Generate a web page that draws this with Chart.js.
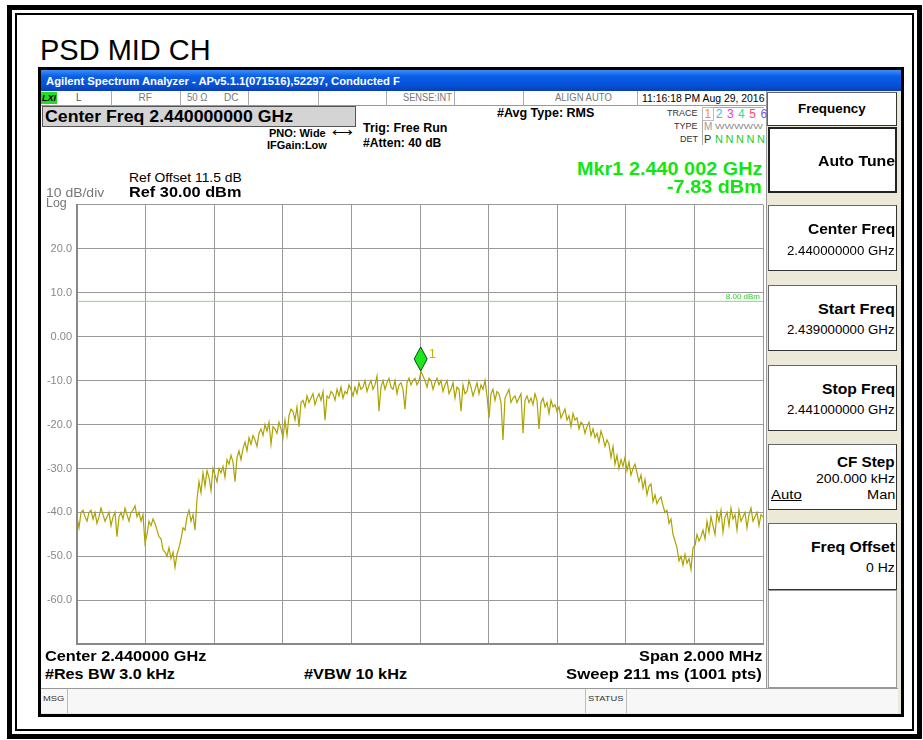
<!DOCTYPE html>
<html>
<head>
<meta charset="utf-8">
<script src="https://cdn.jsdelivr.net/npm/chart.js@4.4.1/dist/chart.umd.min.js"></script>
<style>
  body { margin: 0; width: 923px; height: 740px; background: #fff; position: relative; overflow: hidden;
         font-family: "Liberation Sans", Arial, sans-serif; }
  .abs { position: absolute; box-sizing: border-box; }
  .t { position: absolute; white-space: nowrap; }
  .btn { position: absolute; box-sizing: border-box; background: #fff; border: 1px solid #666;
         border-right-color: #333; border-bottom-color: #333; }
</style>
</head>
<body>
<!-- outer frame -->
<div class="abs" style="left:7px;top:5px;width:915px;height:734px;border:5px solid #000"></div>
<div class="abs" style="left:15px;top:13px;width:899px;height:718px;border:2px solid #000"></div>

<!-- analyzer window -->
<div class="abs" style="left:38px;top:67px;width:866px;height:650px;border:3px solid #000;background:#ece9d8"></div>
<div class="abs" style="left:41px;top:70px;width:860px;height:21px;background:linear-gradient(#3d8ff7,#0a5fe8 30%,#0652da 70%,#0a40b2)"></div>
<div class="abs" style="left:41px;top:91px;width:725px;height:15px;background:#fff;border-bottom:1px solid #999"></div>
<div class="abs" style="left:41px;top:106px;width:725px;height:582px;background:#fff"></div>
<div class="abs" style="left:41px;top:92px;width:16px;height:12px;background:#22dd22"></div>
<div class="abs" style="left:42px;top:106px;width:314px;height:21px;background:#d4d4d4;border:1px solid #555"></div>
<div class="abs" style="left:702px;top:107px;width:62px;height:38px;border-left:1px solid #aaa;border-top:1px solid #aaa"></div>
<div class="abs" style="left:702px;top:107px;width:12px;height:14px;border:1px solid #bbb"></div>

<!-- right panel -->
<div class="abs" style="left:766px;top:91px;width:132px;height:597px;background:#ece9d8;border-left:1px solid #999"></div>
<div class="btn" style="left:767px;top:92px;width:130px;height:34px"></div>
<div class="btn" style="left:768px;top:127px;width:129px;height:66px;border:2px solid #222"></div>
<div class="btn" style="left:768px;top:205px;width:129px;height:66px"></div>
<div class="btn" style="left:768px;top:285px;width:129px;height:66px"></div>
<div class="btn" style="left:768px;top:365px;width:129px;height:66px"></div>
<div class="btn" style="left:768px;top:444px;width:129px;height:66px"></div>
<div class="btn" style="left:768px;top:523px;width:129px;height:67px"></div>
<div class="btn" style="left:768px;top:590px;width:129px;height:98px;border-color:#999"></div>

<!-- msg strip -->
<div class="abs" style="left:41px;top:688px;width:857px;height:25px;background:#f7f7f7;border-top:1px solid #999"></div>

<div class="abs" style="left:40px;top:193px;width:726px;height:463px">
  <canvas id="psd" width="726" height="463"></canvas>
</div>

<script>
// sweep settings (MHz)
const startMHz = 2439.0;
const stopMHz = 2441.0;
const refLevel = 30;
const bottomLevel = -70;

// trace 1 (dBm), left to right
const traceDbm = [
  -41, -43.5, -40, -39.5, -41, -42, -40, -39.5, -41.5, -40, -42.5, -41, -39, -40.5, -42, -41, -40, -43, -41, -40,
  -45.5, -41, -40, -41.5, -39, -40.5, -42, -40, -39.5, -38.5, -41, -40, -42, -40.5, -47, -45, -42, -43, -41.5, -42.5,
  -44, -45.5, -46, -48.5, -49, -50, -48, -50.5, -49, -52.5, -49.5, -48, -46, -43.5, -44, -41, -39.5, -42, -40.5, -44,
  -37, -33, -35.5, -31, -34, -30.5, -32, -35, -30, -31.5, -33, -30, -31, -29.5, -32, -28, -29, -27, -28.5, -33,
  -27.5, -26, -28, -25.5, -24, -26, -23, -24.5, -22.5, -23.5, -25, -22, -21, -22.5, -20, -21.5, -19.5, -24.5, -20.5, -21,
  -22, -19.5, -21, -23, -19, -22.5, -18, -16.5, -17, -19, -16, -20.5, -15, -14.5, -16, -13.5, -15, -14, -13, -15.5,
  -14, -13, -14.5, -12.5, -19, -13.5, -14, -12.5, -13, -14.5, -12, -13.5, -11.5, -14, -12.5, -13, -11, -12, -13.5, -11.5,
  -13, -10.5, -12, -11.5, -10, -12.5, -11, -10, -12, -11, -9, -17, -11.5, -10, -12, -10.5, -9.5, -11.5, -12, -10,
  -13, -11, -10.5, -12, -16.5, -10.5, -9.5, -11, -10, -9.5, -11, -10, -7.9, -9, -10, -11.5, -9.5, -10, -12, -10.5,
  -9.5, -11, -10, -12.5, -11, -10, -13, -12, -10.5, -14, -11.5, -12, -17, -11, -13, -12.5, -10, -11.5, -13.5, -12,
  -10.5, -13, -11, -12, -10, -13.5, -18.5, -13, -12, -14.5, -12.5, -13, -15, -23.5, -14, -13, -12, -15, -14, -13.5,
  -15, -14, -13, -22, -14.5, -13.5, -15, -14, -15.5, -13, -14.5, -21, -15, -14, -16, -15, -17.5, -14.5, -16, -15.5,
  -17, -16, -18.5, -17.5, -16.5, -19, -18, -20.5, -17.5, -19, -18.5, -21, -19.5, -20, -22, -20.5, -19.5, -22.5, -21, -23,
  -22, -24, -21.5, -23, -25, -23.5, -24.5, -27.5, -25, -29, -27, -30, -28, -29.5, -27.5, -30.5, -28.5, -31.5, -30, -29,
  -31, -33, -31.5, -34.5, -32.5, -36, -34, -33.5, -37.5, -36, -38, -37, -36.5, -38.5, -40, -39.5, -42.5, -41.5, -45, -46.5,
  -48, -51, -50, -52, -49.5, -51.5, -50.5, -53, -48, -47.5, -45, -46.5, -45.5, -44, -46, -42, -44.5, -41, -43, -45,
  -40, -42, -39.5, -44.5, -41, -40, -43, -39, -41.5, -40.5, -44, -39.5, -42, -41, -40, -43.5, -40.5, -39, -42, -41,
  -40, -43, -40.5, -41
];

// marker 1 and display line
const markerMHz = [2440.002];
const markerDbm = [-7.83];
const markerLabel = ["1"];
const displayLineDbm = 8.0;

const sweepMHz = traceDbm.map((_, i) => startMHz + i * (stopMHz - startMHz) / (traceDbm.length - 1));

// text helper: x,y = anchor / vertical centre
function lbl(x, y, s, o) {
  o = o || {};
  const el = document.createElement("div");
  el.className = "t";
  const size = o.size || 12;
  el.textContent = s;
  el.style.fontSize = size + "px";
  el.style.lineHeight = size + "px";
  el.style.fontWeight = o.bold ? "bold" : "normal";
  el.style.color = o.color || "#000";
  if (o.font) el.style.fontFamily = o.font;
  if (o.italic) el.style.fontStyle = "italic";
  if (o.under) el.style.textDecoration = "underline";
  el.style.top = (y - size / 2) + "px";
  document.body.appendChild(el);
  const w = el.offsetWidth;
  const k = o.w ? o.w / w : 1;
  const align = o.align || "left";
  const left = align === "right" ? x - w * k : align === "center" ? x - (w * k) / 2 : x;
  el.style.left = left + "px";
  if (k !== 1) {
    el.style.transformOrigin = "left center";
    el.style.transform = "scaleX(" + k + ")";
  }
  return el;
}
function vline(x, y, h, c) {
  const d = document.createElement("div");
  d.className = "abs";
  d.style.cssText = `left:${x}px;top:${y}px;width:1px;height:${h}px;background:${c}`;
  document.body.appendChild(d);
}

// title + window bar
lbl(40, 50, "PSD MID CH", { size: 30, w: 171 });
lbl(46, 81, "Agilent Spectrum Analyzer - APv5.1.1(071516),52297, Conducted F", { size: 11, bold: true, color: "#fff", w: 354 });

// status row
[111, 180, 248, 318, 386, 454, 523, 637].forEach((x) => vline(x, 91, 15, "#aaa"));
lbl(42, 98, "LXI", { size: 9, bold: true, italic: true, w: 14 });
lbl(76, 98, "L", { size: 10, color: "#555" });
lbl(145, 98, "RF", { size: 10, color: "#777", align: "center" });
lbl(187, 98, "50 Ω", { size: 10, color: "#777", w: 20 });
lbl(224, 98, "DC", { size: 10, color: "#777" });
lbl(452, 98, "SENSE:INT", { size: 10, color: "#777", align: "right", w: 49 });
lbl(612, 98, "ALIGN AUTO", { size: 10, color: "#777", align: "right", w: 57 });
lbl(764, 98, "11:16:18 PM Aug 29, 2016", { size: 11, align: "right", w: 122 });

// annotations
lbl(45, 116.5, "Center Freq 2.440000000 GHz", { size: 16, bold: true, w: 248 });
lbl(269, 133, "PNO: Wide", { size: 11, bold: true, w: 57 });
lbl(332, 132, "⟷", { size: 11, w: 21 });
lbl(267, 145, "IFGain:Low", { size: 11, bold: true, w: 60 });
lbl(363, 128, "Trig: Free Run", { size: 12, bold: true, w: 84 });
lbl(363, 143, "#Atten: 40 dB", { size: 12, bold: true, w: 78 });
lbl(497, 113, "#Avg Type: RMS", { size: 12, bold: true, w: 97 });
lbl(698, 113, "TRACE", { size: 9, color: "#333", align: "right" });
lbl(698, 126, "TYPE", { size: 9, color: "#333", align: "right" });
lbl(698, 139, "DET", { size: 9, color: "#333", align: "right" });
const traceColors = ["#f29a12", "#22c8ee", "#ee33dd", "#33dd99", "#ff4477", "#7755ff"];
traceColors.forEach((c, i) => lbl(708 + i * 11.2, 114, String(i + 1), { size: 12, color: c, align: "center" }));
lbl(704, 127, "M", { size: 10, color: "#999" });
lbl(715, 127, "WWWWW", { size: 8, color: "#888", w: 48 });
lbl(704, 139, "P", { size: 11, color: "#333" });
["N", "N", "N", "N", "N"].forEach((s, i) => lbl(719 + i * 10.5, 139, s, { size: 11, color: "#22cc22", align: "center" }));

lbl(762, 168, "Mkr1 2.440 002 GHz", { size: 19, bold: true, color: "#11e611", align: "right", w: 185 });
lbl(762, 186, "-7.83 dBm", { size: 19, bold: true, color: "#11e611", align: "right", w: 95 });
lbl(129, 177, "Ref Offset 11.5 dB", { size: 13, w: 113 });
lbl(129, 191, "Ref 30.00 dBm", { size: 15, bold: true, w: 112 });
lbl(46, 192, "10 dB/div", { size: 13, color: "#777", w: 58 });
lbl(46, 202, "Log", { size: 13, color: "#777", w: 21 });

// bottom annotations
lbl(45, 655, "Center 2.440000 GHz", { size: 15, bold: true, w: 161 });
lbl(762, 655, "Span 2.000 MHz", { size: 15, bold: true, align: "right", w: 123 });
lbl(45, 673, "#Res BW 3.0 kHz", { size: 15, bold: true, w: 130 });
lbl(304, 673, "#VBW 10 kHz", { size: 15, bold: true, w: 103 });
lbl(762, 673, "Sweep  211 ms (1001 pts)", { size: 15, bold: true, align: "right", w: 196 });
[67, 585, 626].forEach((x) => vline(x, 689, 24, "#bbb"));
lbl(43, 699, "MSG", { size: 8, color: "#333", w: 21 });
lbl(588, 699, "STATUS", { size: 8, color: "#333", w: 35 });

// softkeys
lbl(832, 108, "Frequency", { size: 13, bold: true, align: "center", w: 68 });
lbl(895, 160, "Auto Tune", { size: 15, bold: true, align: "right", w: 77 });
lbl(895, 228, "Center Freq", { size: 15, bold: true, align: "right", w: 87 });
lbl(895, 250, "2.440000000 GHz", { size: 13, align: "right", w: 108 });
lbl(895, 308, "Start Freq", { size: 15, bold: true, align: "right", w: 77 });
lbl(895, 329, "2.439000000 GHz", { size: 13, align: "right", w: 108 });
lbl(895, 388, "Stop Freq", { size: 15, bold: true, align: "right", w: 73 });
lbl(895, 409, "2.441000000 GHz", { size: 13, align: "right", w: 108 });
lbl(895, 461, "CF Step", { size: 15, bold: true, align: "right", w: 58 });
lbl(895, 478, "200.000 kHz", { size: 13, align: "right", w: 79 });
lbl(771, 494, "Auto", { size: 13, under: true, w: 31 });
lbl(895, 494, "Man", { size: 13, align: "right", w: 28 });
lbl(895, 546, "Freq Offset", { size: 15, bold: true, align: "right", w: 84 });
lbl(895, 567, "0 Hz", { size: 13, align: "right", w: 29 });

// marker diamond + display line label
const markerPlugin = {
  id: "marker",
  afterDatasetsDraw(chart) {
    const { ctx, chartArea } = chart;
    const x = chart.scales.x;
    const y = chart.scales.y;
    const px = x.getPixelForValue(markerMHz[0]);
    const py = y.getPixelForValue(markerDbm[0]);
    ctx.save();
    ctx.beginPath();
    ctx.moveTo(px, py - 24);
    ctx.lineTo(px + 6.5, py - 12);
    ctx.lineTo(px, py);
    ctx.lineTo(px - 6.5, py - 12);
    ctx.closePath();
    ctx.fillStyle = "#1ee61e";
    ctx.fill();
    ctx.strokeStyle = "#0a4a0a";
    ctx.lineWidth = 1;
    ctx.stroke();
    ctx.fillStyle = "#c8b400";
    ctx.font = '13px "Liberation Sans"';
    ctx.textBaseline = "middle";
    ctx.fillText(markerLabel[0], px + 8, py - 17);
    const dy = y.getPixelForValue(displayLineDbm);
    ctx.fillStyle = "#33cc33";
    ctx.font = '8px "Liberation Sans"';
    ctx.textAlign = "right";
    ctx.textBaseline = "bottom";
    ctx.fillText(displayLineDbm.toFixed(2) + " dBm", chartArea.right - 3, dy - 1);
    ctx.restore();
  },
};

const psd_chart = document.getElementById("psd");
new Chart(psd_chart, {
  type: "line",
  data: {
    datasets: [
      {
        label: "Trace 1",
        data: sweepMHz.map((f, i) => ({ x: f, y: traceDbm[i] })),
        borderColor: "#aca300",
        borderWidth: 1.2,
        pointRadius: 0,
        tension: 0,
      },
      {
        label: "Display Line",
        data: [
          { x: startMHz, y: displayLineDbm },
          { x: stopMHz, y: displayLineDbm },
        ],
        borderColor: "#77e677",
        borderWidth: 1,
        pointRadius: 0,
      },
    ],
  },
  options: {
    responsive: false,
    animation: false,
    layout: { padding: { left: 0, right: 3, top: 9, bottom: 7 } },
    plugins: { legend: { display: false }, tooltip: { enabled: false } },
    scales: {
      x: {
        type: "linear",
        min: startMHz,
        max: stopMHz,
        ticks: { display: false, stepSize: 0.2 },
        grid: { color: "#9a9a9a", drawTicks: false },
        border: { color: "#888", width: 2 },
        afterFit: (s) => { s.height = 0; },
      },
      y: {
        min: bottomLevel,
        max: refLevel,
        ticks: {
          stepSize: 10,
          padding: 5,
          color: "#888",
          font: { size: 11, family: "Liberation Sans" },
          callback: (v) => (v === refLevel || v === bottomLevel ? "" : v === 0 ? "0.00" : v.toFixed(1)),
        },
        grid: { color: "#9a9a9a", drawTicks: false },
        border: { color: "#888", width: 2 },
        afterFit: (s) => { s.width = 37; },
      },
    },
  },
  plugins: [markerPlugin],
});
</script>
</body>
</html>
